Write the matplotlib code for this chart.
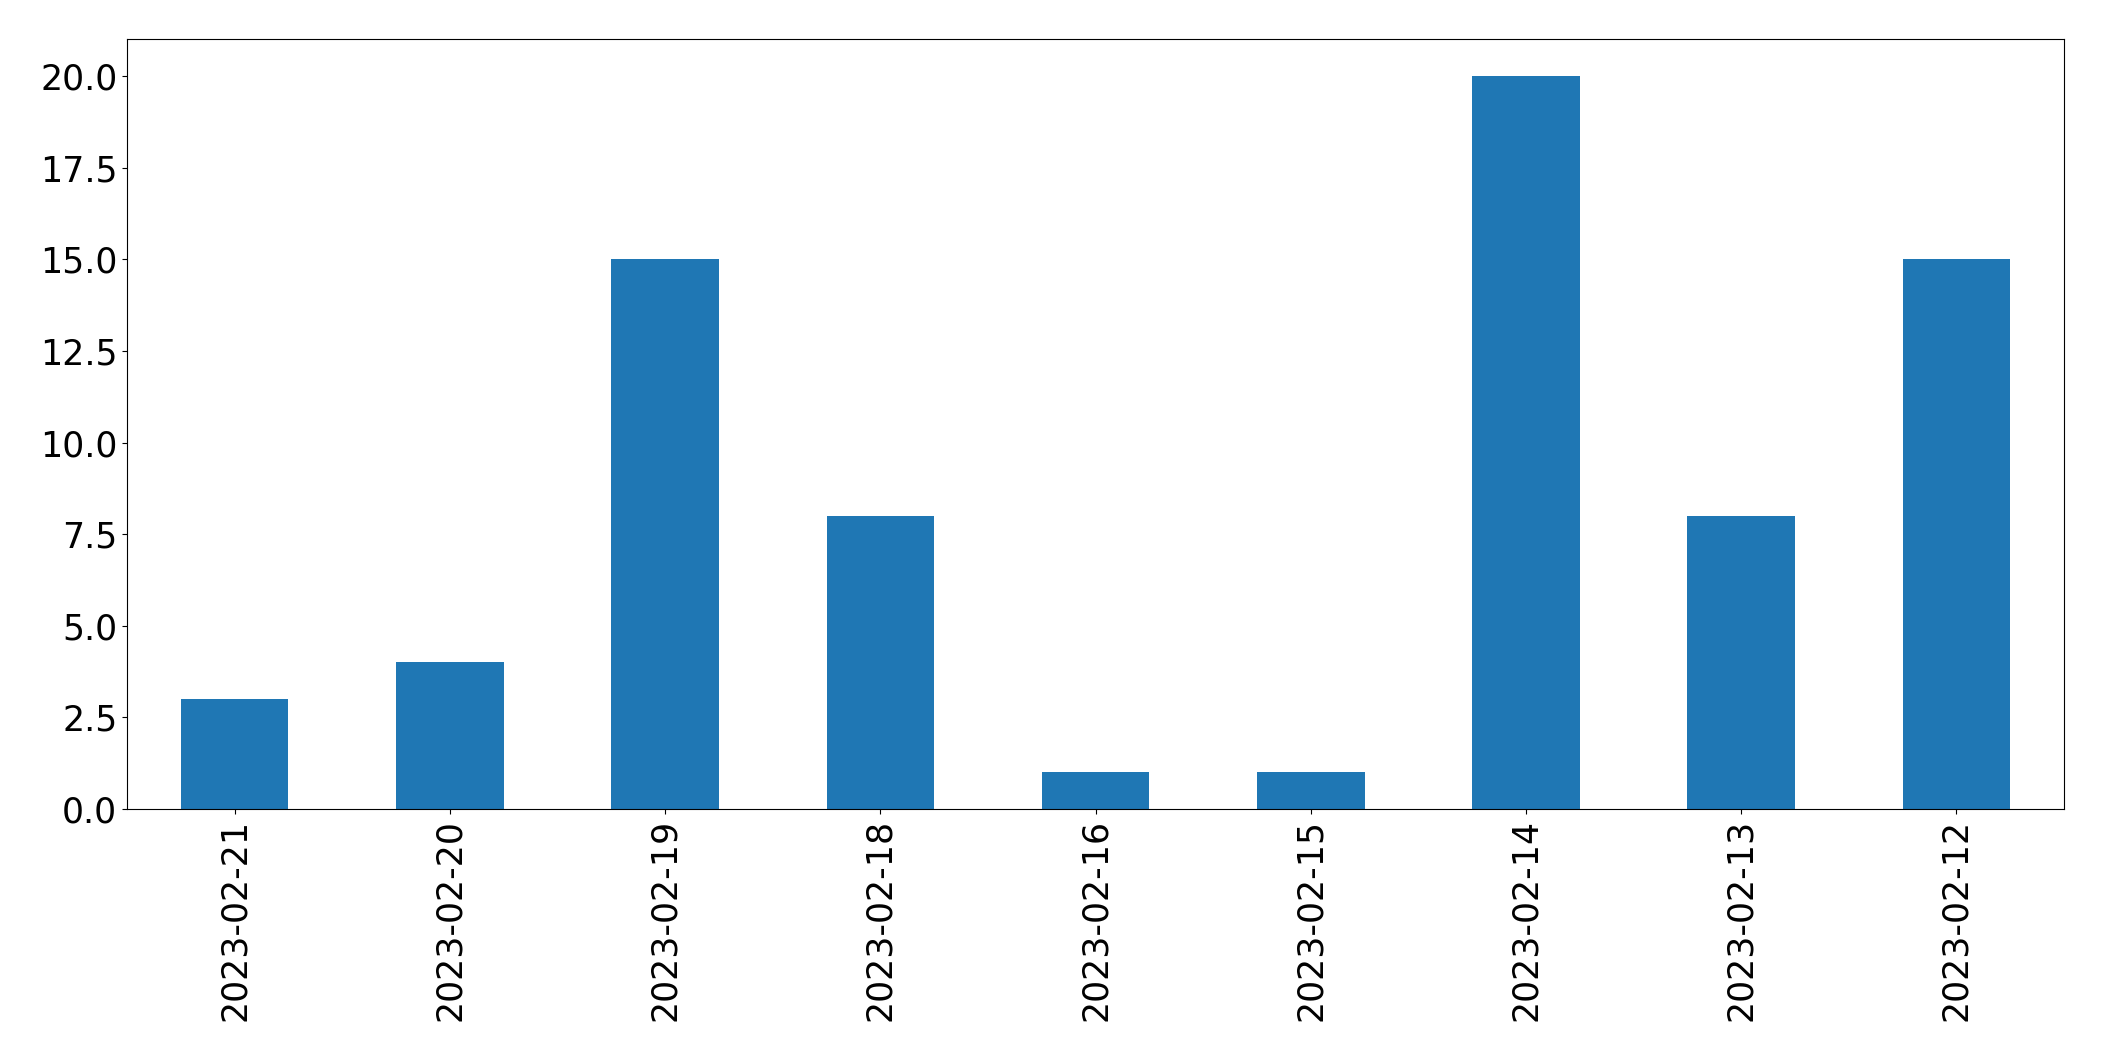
import pandas as pd
import matplotlib
matplotlib.use("Agg")
import matplotlib.pyplot as plt


# ─── Datos ────────────────────────────────────────────────────────────────────

fechas = ["2023-02-21", "2023-02-20", "2023-02-19", "2023-02-18", "2023-02-16",
          "2023-02-15", "2023-02-14", "2023-02-13", "2023-02-12"]
conteos = [3, 4, 15, 8, 1, 1, 20, 8, 15]


# ─── Gráfico ──────────────────────────────────────────────────────────────────

serie = pd.Series(conteos, index=fechas)

fig, ax = plt.subplots(figsize=(21.04, 10.61), dpi=100)
serie.plot(kind="bar", ax=ax, color="#1f77b4")
ax.tick_params(labelsize=25)
fig.subplots_adjust(left=0.0604, right=0.981, bottom=0.2375, top=0.9628)
fig.savefig("out.png", dpi=100)
